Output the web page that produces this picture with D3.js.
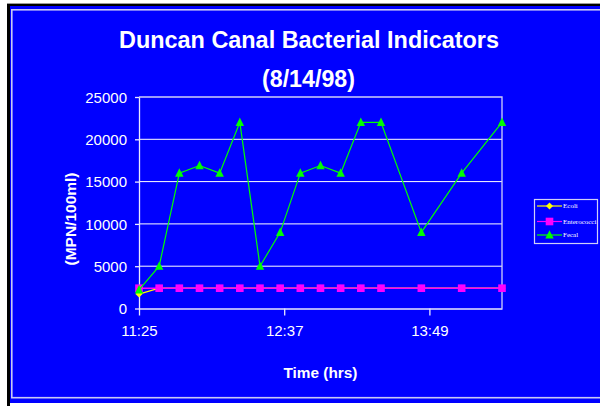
<!DOCTYPE html>
<html>
<head>
<meta charset="utf-8">
<script src="https://cdn.jsdelivr.net/npm/d3@7"></script>
<style>
  html, body { margin: 0; padding: 0; background: #ffffff; }
  svg { display: block; }
</style>
</head>
<body>
<svg id="chart" width="600" height="406"></svg>
<script>
// Sample times (hh:mm) on 8/14/98
const times = ["11:25","11:35","11:45","11:55","12:05","12:15","12:25","12:35",
               "12:45","12:55","13:05","13:15","13:25","13:45","14:05","14:25"];
// Bacterial counts, MPN/100ml
const ecoli       = [1700,2400,2400,2400,2400,2400,2400,2400,2400,2400,2400,2400,2400,2400,2400,2400];
const enterococci = [2400,2400,2400,2400,2400,2400,2400,2400,2400,2400,2400,2400,2400,2400,2400,2400];
const fecal       = [2200,5000,16000,16900,16000,22000,5000,9000,16000,16900,16000,22000,22000,9000,16000,22000];
const seriesNames = ["Ecoli","Enterococci","Fecal"];
const seriesColors = ["#ffff00","#ff00ff","#00ff00"];
const xTickLabels = ["11:25","12:37","13:49"];
const yTickValues = [0,5000,10000,15000,20000,25000];
const xDomain = ["11:25","14:25"];

(function () {
const parse = d3.timeParse("%H:%M");
const svg = d3.select("#chart");

// Frame: dark edges on top and left, blue field, light inner border
svg.append("rect").attr("x",7).attr("y",3).attr("width",600).attr("height",3).attr("fill","#000000");
svg.append("rect").attr("x",7).attr("y",3).attr("width",3).attr("height",403).attr("fill","#000000");
svg.append("line").attr("x1",7).attr("x2",600).attr("y1",3.5).attr("y2",3.5).attr("stroke","#9a9a9a");
svg.append("rect").attr("x",10).attr("y",6).attr("width",600).attr("height",397).attr("fill","#0000ff");
svg.append("rect").attr("x",11.8).attr("y",9.8).attr("width",620).attr("height",387.9)
   .attr("fill","none").attr("stroke","#c8c8f4").attr("stroke-width",1.6);

const plotLeft = 139, plotRight = 502, plotTop = 97, plotBottom = 308.5;

const x = d3.scaleTime().domain(xDomain.map(parse)).range([plotLeft, plotRight]);
const y = d3.scaleLinear().domain([0, 25000]).range([plotBottom, plotTop]);

// Gridlines
svg.append("g").selectAll("line").data(yTickValues.filter(v => v > 0 && v < 25000)).join("line")
   .attr("x1",plotLeft).attr("x2",plotRight).attr("y1",d => y(d)).attr("y2",d => y(d))
   .attr("stroke","#ffffff").attr("stroke-width",1);

// Plot border (top and right)
svg.append("path").attr("d",`M${plotLeft},${plotTop}H${plotRight}V${plotBottom}`)
   .attr("fill","none").attr("stroke","#d0d0f8").attr("stroke-width",1.3);

// Axes
const yAxis = d3.axisLeft(y).tickValues(yTickValues).tickSize(4).tickSizeOuter(0)
   .tickPadding(8).tickFormat(d3.format("d"));
const gy = svg.append("g").attr("transform",`translate(${plotLeft},0)`).call(yAxis);
const xAxis = d3.axisBottom(x).tickValues(xTickLabels.map(parse)).tickSize(7).tickSizeOuter(0)
   .tickPadding(10).tickFormat((d,i) => xTickLabels[i]);
const gx = svg.append("g").attr("transform",`translate(0,${plotBottom})`).call(xAxis);
[gx, gy].forEach(g => {
  g.select(".domain").attr("stroke","#e8e8ff").attr("stroke-width",1.3);
  g.selectAll(".tick line").attr("stroke","#e8e8ff").attr("stroke-width",1.3);
  g.selectAll(".tick text").attr("fill","#ffffff").attr("font-family","Liberation Sans, Arial, sans-serif")
   .attr("font-size",15);
});
gy.selectAll(".tick text").attr("dy","0.35em");
gx.selectAll(".tick text").attr("dy","0.71em");

// Series
const data = [ecoli, enterococci, fecal];
const line = d3.line().x((d,i) => x(parse(times[i]))).y(d => y(d));

function marker(g, k, cx, cy) {
  if (k === 0) {
    g.append("path").attr("d",`M${cx},${cy-3.5}L${cx+3.5},${cy}L${cx},${cy+3.5}L${cx-3.5},${cy}Z`)
     .attr("fill",seriesColors[0]);
  } else if (k === 1) {
    g.append("rect").attr("x",cx-3.8).attr("y",cy-3.8).attr("width",7.6).attr("height",7.6)
     .attr("fill",seriesColors[1]);
  } else {
    g.append("path").attr("d",`M${cx},${cy-4.8}L${cx+4.2},${cy+3.6}L${cx-4.2},${cy+3.6}Z`)
     .attr("fill",seriesColors[2]);
  }
}

data.forEach((vals, k) => {
  const g = svg.append("g");
  g.append("path").datum(vals).attr("d",line).attr("fill","none")
   .attr("stroke",seriesColors[k]).attr("stroke-width",k === 1 ? 1.6 : 1.2);
  vals.forEach((v,i) => marker(g, k, x(parse(times[i])), y(v)));
});

// Titles
const bold = "Liberation Sans, Arial, sans-serif";
svg.append("text").attr("x",309).attr("y",48).attr("text-anchor","middle")
   .attr("font-family",bold).attr("font-weight","bold").attr("font-size",23).attr("fill","#ffffff")
   .attr("textLength",380).attr("lengthAdjust","spacingAndGlyphs")
   .text("Duncan Canal Bacterial Indicators");
svg.append("text").attr("x",308.5).attr("y",87).attr("text-anchor","middle")
   .attr("font-family",bold).attr("font-weight","bold").attr("font-size",23).attr("fill","#ffffff")
   .attr("textLength",93).attr("lengthAdjust","spacingAndGlyphs")
   .text("(8/14/98)");
svg.append("text").attr("transform","translate(76,219) rotate(-90)").attr("text-anchor","middle")
   .attr("font-family",bold).attr("font-weight","bold").attr("font-size",14.5).attr("fill","#ffffff")
   .attr("textLength",93).attr("lengthAdjust","spacingAndGlyphs")
   .text("(MPN/100ml)");
svg.append("text").attr("x",320.5).attr("y",378).attr("text-anchor","middle")
   .attr("font-family",bold).attr("font-weight","bold").attr("font-size",14.5).attr("fill","#ffffff")
   .attr("textLength",74).attr("lengthAdjust","spacingAndGlyphs")
   .text("Time (hrs)");

// Legend
const lg = svg.append("g");
lg.append("rect").attr("x",534.5).attr("y",199.5).attr("width",63).attr("height",44)
  .attr("fill","none").attr("stroke","#d0d0f8").attr("stroke-width",1.2);
const legendY = [206, 221.5, 235];
seriesNames.forEach((name, k) => {
  const yy = legendY[k];
  lg.append("line").attr("x1",537).attr("x2",562).attr("y1",yy).attr("y2",yy)
    .attr("stroke",seriesColors[k]).attr("stroke-width",1.2);
  marker(lg, k, 549.5, yy);
  lg.append("text").attr("x",563).attr("y",yy).attr("dy","0.35em")
    .attr("font-family","Liberation Serif, Times New Roman, serif").attr("font-size",7)
    .attr("fill","#ffffff").text(name);
});
})();
</script>
</body>
</html>
